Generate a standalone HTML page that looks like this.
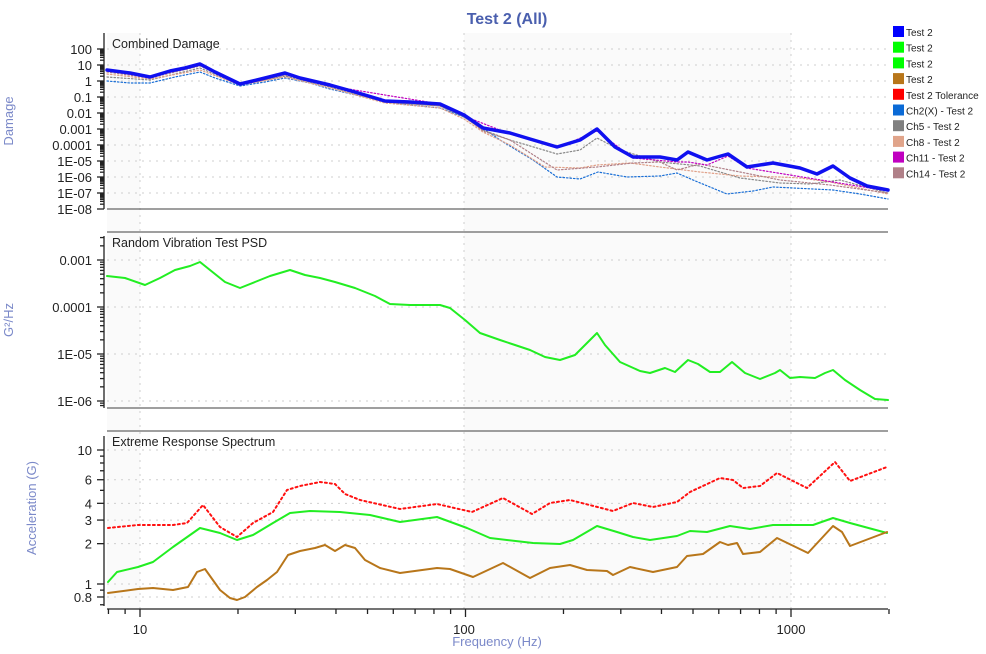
<!DOCTYPE html>
<html><head><meta charset="utf-8"><style>
html,body{margin:0;padding:0;background:#fff;}
svg{display:block;font-family:"Liberation Sans",sans-serif;}
</style></head><body>
<svg id="s" width="986" height="654" xmlns="http://www.w3.org/2000/svg">
<rect width="986" height="654" fill="#fff"/>
<rect x="107" y="33" width="33" height="576" fill="#fafafa"/>
<rect x="464" y="33" width="327" height="576" fill="#fafafa"/>
<g stroke="#cfcfcf" stroke-dasharray="2,5" stroke-width="1">
<line x1="140" y1="33" x2="140" y2="609"/><line x1="464" y1="33" x2="464" y2="609"/><line x1="791" y1="33" x2="791" y2="609"/>
</g>
<g id="grid" stroke="#cfcfcf" stroke-dasharray="2,5" stroke-width="1"></g>
<g stroke="#666" stroke-width="1.2">
<line x1="107" y1="209" x2="888" y2="209"/>
<line x1="107" y1="232" x2="888" y2="232"/>
<line x1="107" y1="408" x2="888" y2="408"/>
<line x1="107" y1="431" x2="888" y2="431"/>
</g>
<g id="axes" stroke="#222" stroke-width="1.3"></g>
<g id="series" fill="none"></g>
<g font-size="13" fill="#222" text-anchor="end" id="ylab"></g>
<g font-size="12.5" fill="#222">
<text x="112" y="48">Combined Damage</text>
<text x="112" y="247">Random Vibration Test PSD</text>
<text x="112" y="446">Extreme Response Spectrum</text>
</g>
<text x="507" y="24" font-size="16" font-weight="bold" fill="#4a5fae" text-anchor="middle">Test 2 (All)</text>
<g font-size="13" fill="#7b89c9" text-anchor="middle">
<text transform="translate(13,121) rotate(-90)">Damage</text>
<text transform="translate(13,320) rotate(-90)">G²/Hz</text>
<text transform="translate(36,508) rotate(-90)">Acceleration (G)</text>
<text x="497" y="646">Frequency (Hz)</text>
</g>
<g font-size="13" fill="#222" text-anchor="middle">
<text x="140" y="634">10</text><text x="464" y="634">100</text><text x="791" y="634">1000</text>
</g>
<g id="legend" font-size="10" fill="#222"></g>
</svg>
<script>
var NS="http://www.w3.org/2000/svg";
function el(p,t,a,txt){var e=document.createElementNS(NS,t);for(var k in a)e.setAttribute(k,a[k]);if(txt!=null)e.textContent=txt;document.getElementById(p).appendChild(e);return e;}
function X(f){return 140+325.5*(Math.log10(f)-1);}
var LX=92;
var labs1=["100","10","1","0.1","0.01","0.001","0.0001","1E-05","1E-06","1E-07","1E-08"];
for(var i=0;i<11;i++){var y=49+16*i;el("ylab","text",{x:LX,y:y+5},labs1[i]);if(i<10)el("grid","line",{x1:107,y1:y,x2:888,y2:y});
 el("axes","line",{x1:97,y1:y,x2:104,y2:y});
 if(i<10)for(var m=2;m<10;m++){var yy=y+16*(1-Math.log10(m));el("axes","line",{x1:100,y1:yy,x2:104,y2:yy});}}
el("axes","line",{x1:104,y1:33,x2:104,y2:209});
var labs2=["0.001","0.0001","1E-05","1E-06"];
for(var i=0;i<4;i++){var y=260+47*i;el("ylab","text",{x:LX,y:y+5},labs2[i]);el("grid","line",{x1:107,y1:y,x2:888,y2:y});
 el("axes","line",{x1:97,y1:y,x2:104,y2:y});}
for(var d=-1;d<4;d++)for(var m=2;m<10;m++){var yy=260+47*d+47*(1-Math.log10(m));if(yy>236&&yy<406)el("axes","line",{x1:100,y1:yy,x2:104,y2:yy});}
el("axes","line",{x1:104,y1:236,x2:104,y2:408});
function Y3(v){return 584-134*Math.log10(v);}
[[10,"10"],[6,"6"],[4,"4"],[3,"3"],[2,"2"],[1,"1"],[0.8,"0.8"]].forEach(function(a){var y=Y3(a[0]);el("ylab","text",{x:LX,y:y+5},a[1]);el("grid","line",{x1:107,y1:y,x2:888,y2:y});});
[0.7,0.8,0.9,1,2,3,4,5,6,7,8,9,10].forEach(function(v){var y=Y3(v);var big=(v==1||v==10||v==2||v==3||v==4||v==6||v==0.8);el("axes","line",{x1:big?97:100,y1:y,x2:104,y2:y});});
el("axes","line",{x1:104,y1:436,x2:104,y2:606});
el("axes","line",{x1:107,y1:609,x2:888,y2:609});
[8,9,10,20,30,40,50,60,70,80,90,100,200,300,400,500,600,700,800,900,1000,2000].forEach(function(f){var x=X(f);var big=(f==10||f==100||f==1000);el("axes","line",{x1:x,y1:609,x2:x,y2:big?617:614});});
function path(pts,st){var d="M"+pts.map(function(p){return p[0]+","+p[1]}).join("L");var a={d:d,stroke:st.c,"stroke-width":st.w,"stroke-linejoin":"round","stroke-linecap":"round"};if(st.da)a["stroke-dasharray"]=st.da;el("series","path",a);}
var blue=[[107,70],[130,73],[150,77],[170,71],[185,68],[200,64],[215,72],[240,84],[265,78],[285,73],[300,78],[330,85],[355,92],[385,101],[410,102],[440,104],[464,115],[483,128],[510,133],[530,139],[557,147],[580,140],[597,129],[615,147],[633,157],[660,157],[677,160],[688,152],[707,160],[728,154],[747,167],[773,163],[800,168],[817,174],[833,166],[850,178],[867,186],[888,190]];
var ch2=[[107,81],[130,83],[150,83],[175,77],[200,72],[215,78],[240,86],[265,82],[285,78],[310,83],[330,89],[360,96],[400,104],[440,108],[464,117],[483,128],[500,140],[533,160],[557,177],[580,179],[598,172],[627,177],[660,176],[677,173],[693,180],[727,194],[753,191],[773,187],[793,188],[833,190],[860,194],[888,199]];
var gray=[[107,77],[150,80],[200,68],[240,85],[285,76],[330,87],[385,102],[440,106],[464,117],[483,130],[510,140],[557,154],[580,150],[597,138],[620,150],[660,162],[700,166],[740,178],[780,183],[810,184],[840,180],[888,193]];
var salmon=[[107,74],[150,79],[200,70],[240,85],[285,77],[330,88],[385,103],[440,108],[464,119],[483,132],[510,145],[545,167],[580,168],[597,165],[630,163],[660,167],[700,172],[740,176],[780,177],[800,178],[830,182],[888,194]];
var mauve=[[107,72],[150,78],[200,66],[240,85],[285,75],[330,86],[385,102],[440,106],[464,116],[483,131],[510,140],[557,170],[597,167],[633,163],[660,162],[677,170],[700,164],[740,172],[780,180],[830,185],[888,193]];
var purple=[[107,71],[150,77],[200,65],[240,84],[285,74],[330,86],[440,104],[464,116],[510,134],[557,148],[597,131],[633,158],[677,162],[688,162],[707,165],[728,156],[747,168],[888,191]];
path(ch2,{c:"#1a6fd6",w:1.2,da:"1.5,2"});
path(gray,{c:"#888",w:1.2,da:"1.5,2"});
path(salmon,{c:"#e0a088",w:1.2,da:"1.5,2"});
path(mauve,{c:"#b08088",w:1.2,da:"1.5,2"});
path(purple,{c:"#c000c0",w:1.2,da:"1.5,2"});
path(blue,{c:"#1010f0",w:3.5});
var psd=[[107,276],[125,278],[145,285],[160,278],[175,270],[190,266],[200,262],[210,270],[225,282],[240,288],[255,282],[270,276],[290,270],[305,275],[320,278],[335,282],[355,288],[375,296],[390,304],[410,305],[440,305],[450,308],[465,320],[480,333],[500,340],[515,345],[530,350],[545,357],[560,360],[575,355],[585,345],[597,333],[605,345],[620,362],[640,371],[650,373],[665,368],[675,372],[688,360],[698,364],[710,372],[720,372],[732,362],[745,373],[760,379],[775,373],[780,370],[790,378],[800,377],[815,378],[825,373],[833,370],[845,380],[860,390],[875,399],[888,400]];
path(psd,{c:"#22ee22",w:2});
var red=[[108,528],[138,525],[173,525],[187,523],[203,505],[220,527],[237,537],[253,523],[273,512],[287,490],[300,486],[320,482],[335,484],[345,494],[360,500],[400,509],[437,504],[472,512],[503,498],[532,514],[550,503],[570,500],[613,511],[633,503],[653,507],[677,502],[690,492],[720,478],[733,480],[743,488],[760,486],[777,473],[807,488],[835,462],[850,481],[887,467]];
path(red,{c:"#ff1010",w:2,da:"2,3"});
var grn=[[108,582],[117,572],[138,567],[153,562],[173,547],[200,528],[220,533],[237,540],[253,535],[273,523],[290,513],[310,511],[340,512],[370,515],[400,522],[437,517],[467,528],[490,538],[533,543],[560,544],[573,540],[597,526],[617,532],[633,537],[650,540],[677,536],[690,531],[707,532],[730,526],[750,529],[773,525],[813,525],[833,518],[850,523],[887,533]];
path(grn,{c:"#22ee22",w:2});
var brn=[[108,593],[138,589],[153,588],[173,590],[188,587],[197,572],[205,569],[220,590],[230,598],[237,600],[245,597],[257,587],[267,580],[277,572],[288,555],[300,551],[315,548],[325,545],[335,551],[345,545],[355,548],[365,560],[380,568],[400,573],[437,568],[450,569],[473,577],[503,563],[530,578],[550,568],[570,565],[587,570],[607,571],[613,575],[630,567],[653,572],[677,567],[687,556],[703,554],[720,542],[728,545],[737,543],[743,554],[760,552],[777,538],[808,553],[833,526],[842,532],[850,546],[887,532]];
path(brn,{c:"#b8761a",w:2});
var leg=[["#0000ff","Test 2"],["#00ff00","Test 2"],["#00ff00","Test 2"],["#b8761a","Test 2"],["#ff0000","Test 2 Tolerance"],["#0a6ad6","Ch2(X) - Test 2"],["#808080","Ch5 - Test 2"],["#e0a48a","Ch8 - Test 2"],["#c000c0","Ch11 - Test 2"],["#b08088","Ch14 - Test 2"]];
leg.forEach(function(l,i){var y=26+15.7*i;el("legend","rect",{x:893,y:y,width:11,height:11,fill:l[0]});el("legend","text",{x:906,y:y+10},l[1]);});
</script>
</body></html>
